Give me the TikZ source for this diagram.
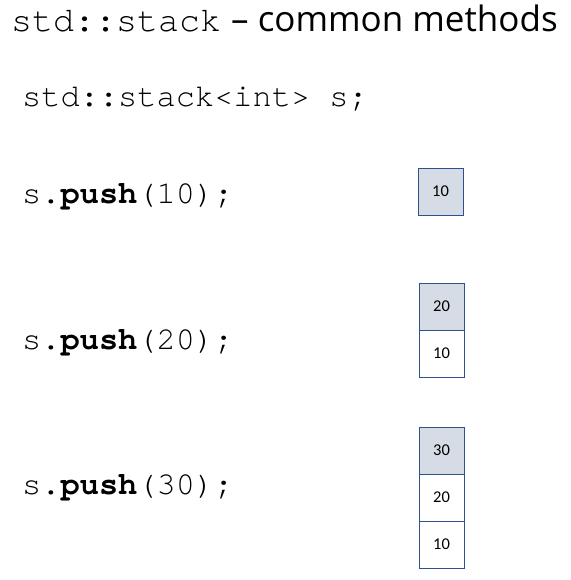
\documentclass[tikz,border=0pt]{standalone}
\usepackage{fontspec}
\setmainfont{Open Sans}
\setmonofont{TeX Gyre Cursor}
\newfontfamily\cellfont{Carlito}
\usetikzlibrary{positioning}

\definecolor{cellline}{HTML}{2F528F}
\definecolor{topfill}{HTML}{D6DCE5}

\tikzset{
  code/.style={anchor=base west, inner sep=0pt, font=\fontsize{32}{36}\selectfont\ttfamily},
  cell/.style={draw=cellline, line width=1pt, fill=white, minimum width=45pt,
    minimum height=47pt, inner sep=0pt, outer sep=0pt, font=\fontsize{16.5}{18}\selectfont\cellfont},
  topcell/.style={cell, fill=topfill}
}

\begin{document}
\begin{tikzpicture}[x=1pt,y=-1pt]
\useasboundingbox (0,0) rectangle (570,580);

% Title
\node[anchor=base west, inner sep=0pt] (title) at (11,32)
  {{\fontsize{35}{40}\selectfont\ttfamily std::stack}\hspace{10pt}{\fontsize{35}{40}\selectfont -- common methods}};

% Code lines
\node[code] (decl) at (22,107) {std::stack<int> s;};
\node[code] (push1) at (22,203) {s.\textbf{push}(10);};
\node[code] (push2) at (22,349) {s.\textbf{push}(20);};
\node[code] (push3) at (22,494) {s.\textbf{push}(30);};

% Stack after first push
\node[topcell] (a1) at (440.5,191.5) {10};

% Stack after second push
\node[topcell] (b2) at (441.5,306.5) {20};
\node[cell, below=0pt of b2] (b1) {10};

% Stack after third push
\node[topcell] (c3) at (441.5,450.5) {30};
\node[cell, below=0pt of c3] (c2) {20};
\node[cell, below=0pt of c2] (c1) {10};
\end{tikzpicture}
\end{document}
